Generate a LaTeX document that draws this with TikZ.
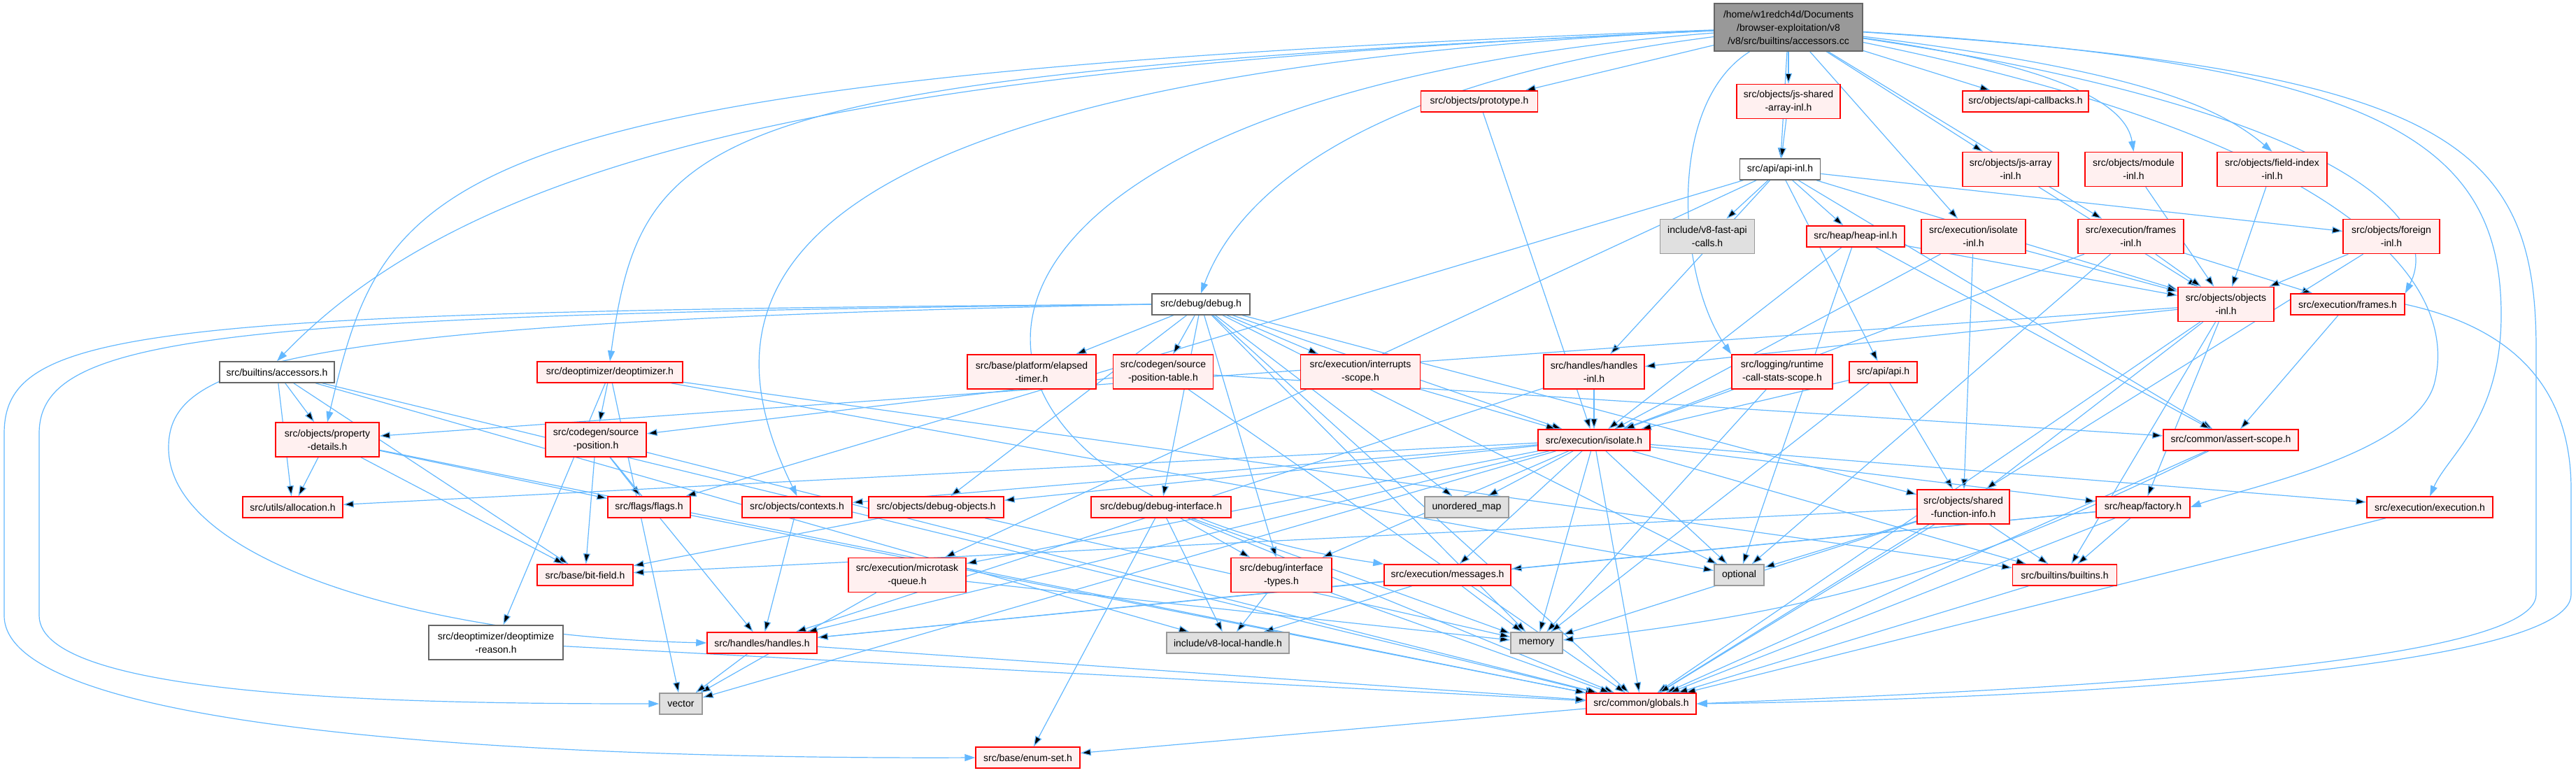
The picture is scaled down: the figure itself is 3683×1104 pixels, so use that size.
\documentclass[tikz,border=0pt]{standalone}
\usepackage{fontspec}
\setmainfont{Liberation Sans}
\usetikzlibrary{arrows.meta,backgrounds}

\definecolor{edgeblue}{HTML}{63B8FF}
\definecolor{redfill}{HTML}{FFF0F0}
\definecolor{grayfill}{HTML}{E0E0E0}
\definecolor{rootfill}{HTML}{999999}
\definecolor{darkborder}{HTML}{666666}
\definecolor{grayborder}{HTML}{999999}

\tikzset{
  file/.style={draw, line width=1.5pt, font=\fontsize{14}{19}\selectfont,
    align=center, inner sep=2pt, minimum height=30pt},
  redfile/.style={file, draw=red, fill=redfill},
  plainfile/.style={file, draw=darkborder, fill=white},
  sysfile/.style={file, draw=grayborder, fill=grayfill},
  rootfile/.style={file, draw=darkborder, fill=rootfill},
  two/.style={minimum height=49pt},
  dep/.style={draw=edgeblue, line width=1.2pt, -{Triangle[length=15pt,width=10pt]}},
}

\begin{document}
\begin{tikzpicture}[x=1pt, y=-1pt]
\useasboundingbox (0,0) rectangle (3683,1104);

% files
\node[rootfile, minimum height=68pt, minimum width=212pt] (root) at (2557,39)
  {/home/w1redch4d/Documents\\/browser-exploitation/v8\\/v8/src/builtins/accessors.cc};
\node[redfile, minimum width=167pt] (prototype) at (2115,145) {src/objects/prototype.h};
\node[redfile, two, minimum width=148pt] (jsshared) at (2557,145) {src/objects/js-shared\\-array-inl.h};
\node[redfile, minimum width=180pt] (apicallbacks) at (2896,145) {src/objects/api-callbacks.h};
\node[plainfile, minimum width=115pt] (apiinl) at (2545,242) {src/api/api-inl.h};
\node[redfile, two, minimum width=137pt] (jsarray) at (2874.5,242) {src/objects/js-array\\-inl.h};
\node[redfile, two, minimum width=139pt] (module) at (3050.5,242) {src/objects/module\\-inl.h};
\node[redfile, two, minimum width=157pt] (fieldindex) at (3248.5,242) {src/objects/field-index\\-inl.h};
\node[sysfile, two, minimum width=135pt] (fastapi) at (2441,338) {include/v8-fast-api\\-calls.h};
\node[redfile, minimum width=140pt] (heapinl) at (2653,338) {src/heap/heap-inl.h};
\node[redfile, two, minimum width=149pt] (isolateinl) at (2821.5,338) {src/execution/isolate\\-inl.h};
\node[redfile, two, minimum width=151pt] (framesinl) at (3046.5,338) {src/execution/frames\\-inl.h};
\node[redfile, two, minimum width=138pt] (foreign) at (3419,338) {src/objects/foreign\\-inl.h};
\node[plainfile, minimum width=140pt] (debug) at (1717,435) {src/debug/debug.h};
\node[redfile, two, minimum width=137pt] (objinl) at (3182.5,435) {src/objects/objects\\-inl.h};
\node[redfile, minimum width=163pt] (frames) at (3356.5,435) {src/execution/frames.h};
\node[plainfile, minimum width=164pt] (accessorsh) at (396,532) {src/builtins/accessors.h};
\node[redfile, minimum width=208pt] (deopt) at (872,532) {src/deoptimizer/deoptimizer.h};
\node[redfile, two, minimum width=184pt] (elapsed) at (1475,531.5) {src/base/platform/elapsed\\-timer.h};
\node[redfile, two, minimum width=143pt] (spt) at (1663,531.5) {src/codegen/source\\-position-table.h};
\node[redfile, two, minimum width=171pt] (interrupts) at (1945,531.5) {src/execution/interrupts\\-scope.h};
\node[redfile, two, minimum width=144pt] (handlesinl) at (2279,531.5) {src/handles/handles\\-inl.h};
\node[redfile, two, minimum width=144pt] (rcsscope) at (2548,531.5) {src/logging/runtime\\-call-stats-scope.h};
\node[redfile, minimum width=97pt] (apih) at (2692.5,532) {src/api/api.h};
\node[redfile, two, minimum width=148pt] (propdet) at (468,628.5) {src/objects/property\\-details.h};
\node[redfile, two, minimum width=144pt] (srcpos) at (852,628.5) {src/codegen/source\\-position.h};
\node[redfile, minimum width=160pt] (isolate) at (2279,629) {src/execution/isolate.h};
\node[redfile, minimum width=193pt] (assert) at (3189.5,629) {src/common/assert-scope.h};
\node[redfile, minimum width=143pt] (alloc) at (418.5,725) {src/utils/allocation.h};
\node[redfile, minimum width=118pt] (flags) at (928,725) {src/flags/flags.h};
\node[redfile, minimum width=157pt] (contexts) at (1139.5,725) {src/objects/contexts.h};
\node[redfile, minimum width=193pt] (debugobjects) at (1338.5,725) {src/objects/debug-objects.h};
\node[redfile, minimum width=200pt] (debuginterface) at (1660,725) {src/debug/debug-interface.h};
\node[sysfile, minimum width=120pt] (umap) at (2097,725) {unordered\_map};
\node[redfile, two, minimum width=132pt] (sfi) at (2807,724.5) {src/objects/shared\\-function-info.h};
\node[redfile, minimum width=134pt] (factory) at (3064,725) {src/heap/factory.h};
\node[redfile, minimum width=180pt] (execution) at (3474,725) {src/execution/execution.h};
\node[redfile, minimum width=137pt] (bitfield) at (836.5,822) {src/base/bit-field.h};
\node[redfile, two, minimum width=168pt] (microtask) at (1297,822) {src/execution/microtask\\-queue.h};
\node[redfile, two, minimum width=144pt] (interfacetypes) at (1832,822) {src/debug/interface\\-types.h};
\node[redfile, minimum width=181pt] (messages) at (2069.5,822) {src/execution/messages.h};
\node[sysfile, minimum width=71pt] (optional) at (2486.5,822) {optional};
\node[redfile, minimum width=149pt] (builtins) at (2952,822) {src/builtins/builtins.h};
\node[plainfile, two, minimum width=192pt] (reason) at (709,918.5) {src/deoptimizer/deoptimize\\-reason.h};
\node[redfile, minimum width=157pt] (handles) at (1089.5,919) {src/handles/handles.h};
\node[sysfile, minimum width=175pt] (v8lh) at (1755.5,919) {include/v8-local-handle.h};
\node[sysfile, minimum width=74pt] (memory) at (2197,919) {memory};
\node[sysfile, minimum width=61pt] (vector) at (973.5,1006) {vector};
\node[redfile, minimum width=157pt] (globals) at (2346.5,1006) {src/common/globals.h};
\node[redfile, minimum width=149pt] (enumset) at (1469.5,1083) {src/base/enum-set.h};

\begin{pgfonlayer}{background}
% long routes
\draw[dep] (root) .. controls (1300,95) and (700,200) .. (accessorsh.north);
\draw[dep] (root) .. controls (600,110) and (552,250) .. (propdet.north);
\draw[dep] (root) .. controls (1000,110) and (918,180) .. (deopt.north);
\draw[dep] (root) .. controls (1013,110) and (1013,450) .. (contexts.north);
\draw[dep] (root) .. controls (1244,140) and (1244,700) .. (messages.north west);
\draw[dep] (root) .. controls (2000,110) and (1780,250) .. (debug.north);
\draw[dep] (root) .. controls (2380,150) and (2400,400) .. (rcsscope.north west);
\draw[dep] (root) .. controls (2950,95) and (3040,150) .. (module.north);
\draw[dep] (root) .. controls (3050,100) and (3170,150) .. (fieldindex.north);
\draw[dep] (root) .. controls (3400,90) and (3576,200) .. (3576,450)
  .. controls (3576,600) and (3500,650) .. (execution.north);
\draw[dep] (root) .. controls (3500,100) and (3626,200) .. (3626,500) -- (3626,850)
  .. controls (3626,960) and (2800,990) .. (globals.east);
\draw[dep] (root) .. controls (3300,150) and (3500,300) .. (frames.north east);
\draw[dep] (root) .. controls (3350,200) and (3520,400) .. (3480,550)
  .. controls (3450,650) and (3200,700) .. (factory.east);
\draw[dep] (frames.east) .. controls (3600,470) and (3676,560) .. (3676,700) -- (3676,850)
  .. controls (3676,960) and (2900,1000) .. (globals.east);
\draw[dep] (debug.west) .. controls (200,445) and (6,470) .. (6,620) -- (6,880)
  .. controls (6,1060) and (900,1085) .. (enumset.west);
\draw[dep] (debug.west) .. controls (300,450) and (56,480) .. (56,620) -- (56,880)
  .. controls (56,1000) and (600,1006) .. (vector.west);
\draw[dep] (debug.west) .. controls (400,460) and (241,520) .. (241,640)
  .. controls (241,800) and (600,910) .. (handles.west);

% direct includes
\path[dep]
  (root) edge (prototype)
  (root) edge (jsshared)
  (root) edge (apicallbacks)
  (root) edge (apiinl)
  (root) edge (jsarray)
  (root) edge (isolateinl)
  (root) edge (framesinl)
  (accessorsh) edge (v8lh)
  (accessorsh) edge (bitfield)
  (accessorsh) edge (globals)
  (accessorsh) edge (propdet)
  (accessorsh) edge (alloc)
  (propdet) edge (alloc)
  (propdet) edge (flags)
  (propdet) edge (bitfield)
  (propdet) edge (globals)
  (prototype) edge (isolate)
  (jsshared) edge (apiinl)
  (jsarray) edge (objinl)
  (module) edge (objinl)
  (fieldindex) edge (objinl)
  (apiinl) edge (fastapi)
  (apiinl) edge (apih)
  (apiinl) edge (assert)
  (apiinl) edge (microtask)
  (apiinl) edge (flags)
  (apiinl) edge (handlesinl)
  (apiinl) edge (heapinl)
  (apiinl) edge (foreign)
  (apiinl) edge (objinl)
  (heapinl) edge (isolate)
  (heapinl) edge (optional)
  (heapinl) edge (objinl)
  (heapinl) edge (assert)
  (isolateinl) edge (isolate)
  (isolateinl) edge (objinl)
  (isolateinl) edge (sfi)
  (framesinl) edge (frames)
  (framesinl) edge (objinl)
  (framesinl) edge (isolate)
  (framesinl) edge (optional)
  (foreign) edge (objinl)
  (foreign) edge (globals)
  (frames) edge (assert)
  (debug) edge (memory)
  (debug) edge (optional)
  (debug) edge (umap)
  (debug) edge (elapsed)
  (debug) edge (spt)
  (debug) edge (globals)
  (debug) edge (debuginterface)
  (debug) edge (interfacetypes)
  (debug) edge (interrupts)
  (debug) edge (isolate)
  (debug) edge (debugobjects)
  (debug) edge (sfi)
  (objinl) edge (propdet)
  (objinl) edge (handlesinl)
  (objinl) edge (sfi)
  (objinl) edge (factory)
  (objinl) edge (builtins)
  (objinl) edge (globals)
  (deopt) edge (reason)
  (deopt) edge (srcpos)
  (deopt) edge (vector)
  (deopt) edge (optional)
  (deopt) edge (builtins)
  (srcpos) edge (flags)
  (srcpos) edge (bitfield)
  (srcpos) edge (handles)
  (srcpos) edge (globals)
  (reason) edge (globals)
  (spt) edge (srcpos)
  (spt) edge (assert)
  (spt) edge (globals)
  (interrupts) edge (isolate)
  (handlesinl) edge (handles)
  (handlesinl) edge (isolate)
  (rcsscope) edge (isolate)
  (rcsscope) edge (memory)
  (apih) edge (isolate)
  (apih) edge (memory)
  (apih) edge (sfi)
  (isolate) edge (umap)
  (isolate) edge (memory)
  (isolate) edge (optional)
  (isolate) edge (vector)
  (isolate) edge (builtins)
  (isolate) edge (globals)
  (isolate) edge (interfacetypes)
  (isolate) edge (execution)
  (isolate) edge (messages)
  (isolate) edge (handles)
  (isolate) edge (factory)
  (isolate) edge (contexts)
  (isolate) edge (debugobjects)
  (isolate) edge (alloc)
  (isolate) edge (microtask)
  (assert) edge[bend left=10] (memory)
  (assert) edge (globals)
  (sfi) edge (bitfield)
  (sfi) edge (builtins)
  (sfi) edge (globals)
  (sfi) edge (memory)
  (sfi) edge (optional)
  (factory) edge (builtins)
  (factory) edge (globals)
  (factory) edge (messages)
  (factory) edge (handles)
  (execution) edge (globals)
  (builtins) edge (globals)
  (messages) edge (v8lh)
  (messages) edge (memory)
  (messages) edge (handles)
  (microtask) edge (vector)
  (microtask) edge (memory)
  (handles) edge (vector)
  (handles) edge (globals)
  (contexts) edge (handles)
  (debugobjects) edge (bitfield)
  (debugobjects) edge (memory)
  (debuginterface) edge (interfacetypes)
  (debuginterface) edge (v8lh)
  (debuginterface) edge (enumset)
  (debuginterface) edge (memory)
  (debuginterface) edge (globals)
  (interfacetypes) edge (v8lh)
  (interfacetypes) edge (globals)
  (flags) edge (globals)
  (globals) edge (enumset);
\end{pgfonlayer}
\end{tikzpicture}
\end{document}
